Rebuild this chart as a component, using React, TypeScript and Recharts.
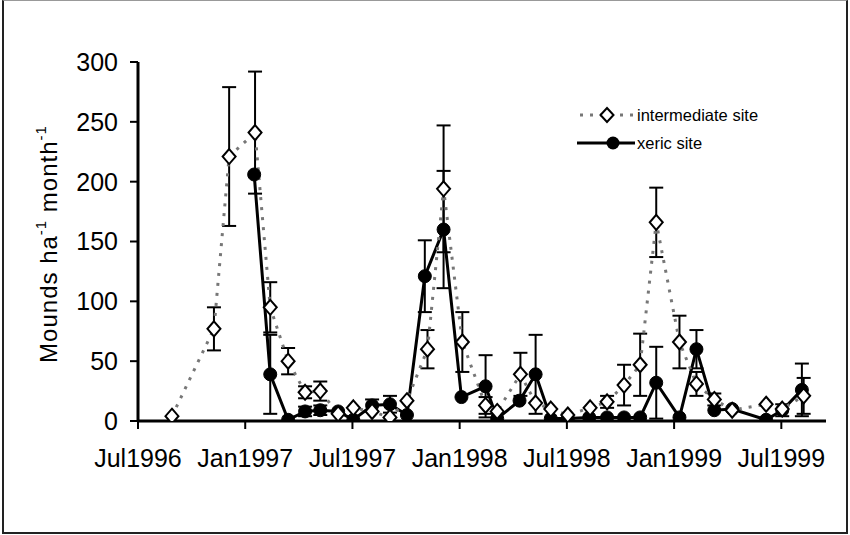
import React from 'react';
import { LineChart, Line, XAxis, YAxis, ErrorBar } from 'recharts';

// x values are months since July 1996
const xTicks = [0, 6, 12, 18, 24, 30, 36];
const xTickLabels = ['Jul1996', 'Jan1997', 'Jul1997', 'Jan1998', 'Jul1998', 'Jan1999', 'Jul1999'];
const yTicks = [0, 50, 100, 150, 200, 250, 300];

const intermediateMonths = [1.9, 4.25, 5.1, 6.55, 7.4, 8.4, 9.35, 10.2, 11.2, 12.05, 13.1, 14.1, 15.05, 16.2, 17.1, 18.15, 19.45, 20.1, 21.4, 22.25, 23.1, 24.05, 25.3, 26.25, 27.2, 28.1, 29.0, 30.3, 31.25, 32.25, 33.25, 35.15, 36.05, 37.25];
const intermediateValues = [4, 77, 221, 241, 95, 50, 24, 25, 6, 11, 8, 3, 17, 60, 194, 66, 13, 8, 39, 15, 10, 5, 11, 16, 30, 47, 166, 66, 31, 18, 9, 14, 10, 21];
const intermediateErrors = [null, 18, 58, 51, 21, 11, 5, 8, null, null, null, null, null, 16, 53, 25, 7, null, 18, null, null, null, null, 5, 17, 26, 29, 22, 10, 5, null, null, null, 15];

const xericMonths = [6.5, 7.4, 8.4, 9.35, 10.2, 11.2, 12.05, 13.1, 14.1, 15.05, 16.05, 17.1, 18.1, 19.45, 20.1, 21.35, 22.25, 23.1, 24.05, 25.25, 26.25, 27.2, 28.1, 29.0, 30.3, 31.25, 32.25, 33.25, 35.15, 36.05, 37.15];
const xericValues = [206, 39, 1, 8, 9, 8, 1, 13, 14, 5, 121, 160, 20, 29, 2, 17, 39, 2, 2, 3, 3, 3, 3, 32, 3, 60, 9, 10, 1, 9, 26];
const xericErrors = [null, 33, null, 4, 4, null, null, 5, 7, null, 30, 49, null, 26, null, null, 33, null, null, null, null, null, null, 30, null, 16, null, null, null, 5, 22];

const toRows = (months: number[], values: number[], errors: (number | null)[]) =>
  months.map((m, i) => ({
    m,
    v: values[i],
    e: errors[i] == null ? null : [Math.min(errors[i] as number, values[i]), errors[i] as number],
  }));

const intermediateData = toRows(intermediateMonths, intermediateValues, intermediateErrors);
const xericData = toRows(xericMonths, xericValues, xericErrors);

const FONT = '"Liberation Sans", Arial, Helvetica, sans-serif';

const Diamond = (props: any) => {
  const { cx, cy, index } = props;
  if (cx == null || cy == null) return <g key={`dm-${index}`} />;
  const r = 7.5;
  return (
    <polygon
      key={`dm-${index}`}
      points={`${cx},${cy - r} ${cx + r - 1},${cy} ${cx},${cy + r} ${cx - r + 1},${cy}`}
      fill="#fff"
      stroke="#000"
      strokeWidth={2}
    />
  );
};

const Dot = (props: any) => {
  const { cx, cy, index } = props;
  if (cx == null || cy == null) return <g key={`dt-${index}`} />;
  return <circle key={`dt-${index}`} cx={cx} cy={cy} r={6.5} fill="#000" stroke="#000" strokeWidth={1} />;
};

export default function App() {
  return (
    <div style={{ position: 'absolute', left: 0, top: 0, width: 850, height: 535, background: '#fff', fontFamily: FONT }}>
      <div
        style={{
          position: 'absolute',
          left: 2,
          top: 0,
          width: 846,
          height: 534,
          boxSizing: 'border-box',
          borderLeft: '2px solid #222',
          borderRight: '2px solid #222',
          borderBottom: '2px solid #222',
          borderTop: '1px solid #999',
        }}
      />
      <div style={{ position: 'absolute', left: 0, top: 0 }}>
        <LineChart width={850} height={535} margin={{ top: 62, right: 24, bottom: 0, left: 0 }}>
          <XAxis
            type="number"
            dataKey="m"
            domain={[0, 38.5]}
            ticks={xTicks}
            tickFormatter={(t: number) => xTickLabels[xTicks.indexOf(t)] ?? ''}
            interval={0}
            height={114}
            allowDataOverflow
            axisLine={{ stroke: '#000', strokeWidth: 3 }}
            tickLine={{ stroke: '#000', strokeWidth: 2 }}
            tickSize={8}
            tickMargin={20}
            tick={{ fill: '#000', fontSize: 25, fontFamily: FONT }}
          />
          <YAxis
            type="number"
            domain={[0, 300]}
            ticks={yTicks}
            interval={0}
            width={138}
            allowDataOverflow
            axisLine={{ stroke: '#000', strokeWidth: 3 }}
            tickLine={{ stroke: '#000', strokeWidth: 2 }}
            tickSize={8}
            tickMargin={12}
            tick={{ fill: '#000', fontSize: 25, fontFamily: FONT }}
          />
          <Line
            data={xericData}
            dataKey="v"
            type="linear"
            stroke="#000"
            strokeWidth={3}
            dot={Dot}
            activeDot={false}
            isAnimationActive={false}
          >
            <ErrorBar dataKey="e" width={7} stroke="#000" strokeWidth={2} direction="y" isAnimationActive={false} />
          </Line>
          <Line
            data={intermediateData}
            dataKey="v"
            type="linear"
            stroke="#777"
            strokeWidth={3}
            strokeDasharray="3 7"
            dot={Diamond}
            activeDot={false}
            isAnimationActive={false}
          >
            <ErrorBar dataKey="e" width={7} stroke="#000" strokeWidth={2} direction="y" isAnimationActive={false} />
          </Line>
        </LineChart>
      </div>
      <svg width={850} height={535} style={{ position: 'absolute', left: 0, top: 0, pointerEvents: 'none' }}>
        <text
          transform="translate(57,244) rotate(-90)"
          textAnchor="middle"
          fontSize={24}
          fontFamily={FONT}
          fill="#000"
          letterSpacing={1}
        >
          Mounds ha
          <tspan fontSize={15} dy={-11}>-1</tspan>
          <tspan dy={11}> month</tspan>
          <tspan fontSize={15} dy={-11}>-1</tspan>
        </text>
        {/* legend */}
        <line x1={580} y1={115} x2={633} y2={115} stroke="#777" strokeWidth={3} strokeDasharray="3 7" />
        <polygon points="607,108 613.5,115 607,122 600.5,115" fill="#fff" stroke="#000" strokeWidth={2} />
        <text x={637} y={121} fontSize={16.5} fontFamily={FONT} fill="#000">
          intermediate site
        </text>
        <line x1={577} y1={143} x2={635} y2={143} stroke="#000" strokeWidth={3} />
        <circle cx={613} cy={143} r={6.5} fill="#000" />
        <text x={637} y={149} fontSize={16.5} fontFamily={FONT} fill="#000">
          xeric site
        </text>
      </svg>
    </div>
  );
}
